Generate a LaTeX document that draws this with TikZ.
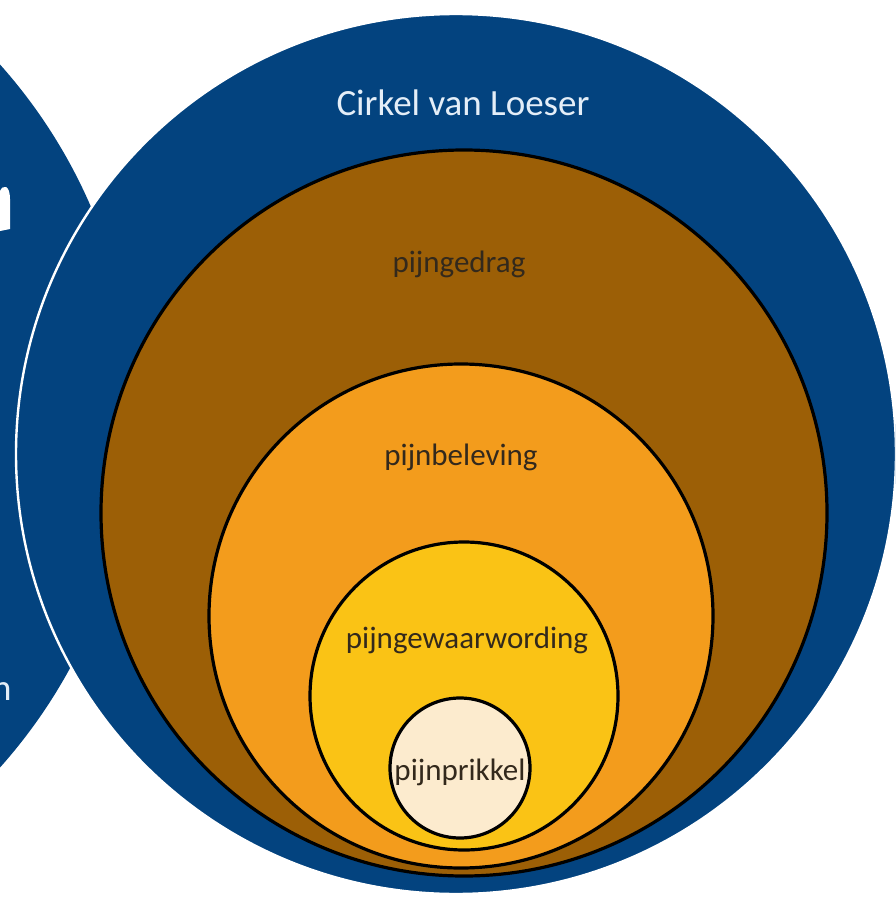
\documentclass[tikz,border=0pt]{standalone}
\usepackage{fontspec}
\setmainfont{Carlito}
\definecolor{loeserblue}{HTML}{03437F}
\definecolor{gedragbrown}{HTML}{9C5F06}
\definecolor{belevingorange}{HTML}{F39C1C}
\definecolor{gewaaryellow}{HTML}{FAC315}
\definecolor{prikkelcream}{HTML}{FCEBCE}
\definecolor{labeltext}{HTML}{33291C}
\definecolor{titletext}{HTML}{E4EEF8}
\begin{document}
\begin{tikzpicture}[x=0.5pt,y=-0.5pt,
  disc/.style={circle, inner sep=0pt, outer sep=0pt},
  ring/.style={disc, draw=black, line width=1.6pt},
  lbl/.style={anchor=base, inner sep=0pt, font=\fontsize{15.5}{18}\selectfont, text=labeltext}]
\useasboundingbox (0,0) rectangle (895,899);
\clip (0,0) rectangle (895,899);
% partly visible neighbouring circle
\node[disc, fill=loeserblue, minimum size=528pt] (other) at (-394,416) {};
\fill[white] (0,191) .. controls (3,184) and (10,185) .. (10,199) -- (10,229) -- (0,231) -- cycle;
\node[anchor=base east, inner sep=0pt, font=\fontsize{18.5}{22}\selectfont, text=titletext] (otherlabel) at (12,700) {n};
% Cirkel van Loeser
\node[disc, fill=loeserblue, draw=white, line width=1.2pt, minimum size=440pt] (loeser) at (456,454) {};
\node[ring, fill=gedragbrown, minimum size=363pt] (gedrag) at (464,513) {};
\node[ring, fill=belevingorange, minimum size=252pt] (beleving) at (461,616) {};
\node[ring, fill=gewaaryellow, minimum size=154pt] (gewaar) at (464,696) {};
\node[ring, fill=prikkelcream, minimum size=70pt] (prikkel) at (460,768) {};
% labels
\node[anchor=base, inner sep=0pt, font=\fontsize{18.5}{22}\selectfont, text=titletext] (title) at (463,116) {Cirkel van Loeser};
\node[lbl] (gedraglbl) at (459,272) {pijngedrag};
\node[lbl] (belevinglbl) at (461,465) {pijnbeleving};
\node[lbl] (gewaarlbl) at (467,648) {pijngewaarwording};
\node[lbl] (prikkellbl) at (460,780) {pijnprikkel};
\end{tikzpicture}
\end{document}
